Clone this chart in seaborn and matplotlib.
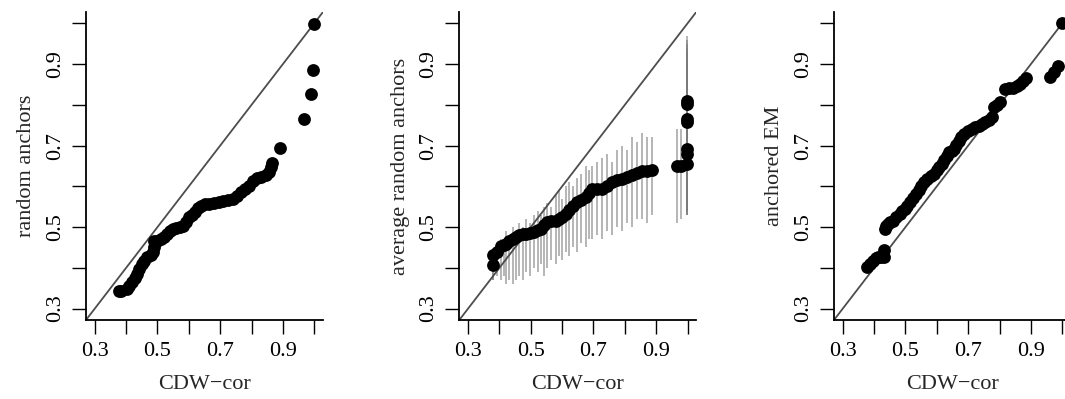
import matplotlib
matplotlib.use("Agg")
import numpy as np
import pandas as pd
import seaborn as sns
import matplotlib.pyplot as plt

# panel 1: random anchors vs CDW-cor
rand_x = [0.377, 0.385, 0.403, 0.410, 0.420, 0.428, 0.436, 0.442, 0.450, 0.458,
          0.467, 0.478, 0.486, 0.488, 0.490, 0.500, 0.510, 0.520, 0.530, 0.540,
          0.550, 0.560, 0.572, 0.582, 0.592, 0.600, 0.610, 0.620, 0.630, 0.640,
          0.650, 0.665, 0.680, 0.695, 0.710, 0.725, 0.742, 0.755, 0.768, 0.780,
          0.792, 0.805, 0.818, 0.830, 0.845, 0.855, 0.862, 0.866, 0.890, 0.967,
          0.989, 0.996, 1.000]
rand_y = [0.342, 0.343, 0.348, 0.355, 0.365, 0.375, 0.386, 0.398, 0.410, 0.418,
          0.426, 0.432, 0.440, 0.452, 0.465, 0.467, 0.471, 0.476, 0.483, 0.490,
          0.495, 0.498, 0.500, 0.503, 0.512, 0.524, 0.530, 0.537, 0.546, 0.553,
          0.557, 0.557, 0.559, 0.562, 0.565, 0.566, 0.568, 0.576, 0.585, 0.594,
          0.602, 0.612, 0.620, 0.624, 0.629, 0.636, 0.648, 0.657, 0.694, 0.765,
          0.826, 0.885, 0.999]

# panel 2: average random anchors with ranges
avg_x = [0.378, 0.379, 0.392, 0.406, 0.415, 0.421, 0.430, 0.442, 0.452, 0.464,
         0.475, 0.485, 0.498, 0.511, 0.522, 0.532, 0.543, 0.553, 0.566, 0.580,
         0.590, 0.601, 0.612, 0.622, 0.635, 0.648, 0.660, 0.675, 0.686, 0.696,
         0.710, 0.727, 0.742, 0.759, 0.775, 0.791, 0.806, 0.822, 0.838, 0.854,
         0.870, 0.886, 0.965, 0.980, 0.998, 0.999, 0.999, 0.999, 0.999, 0.999,
         0.999]
avg_y = [0.406, 0.431, 0.440, 0.453, 0.456, 0.459, 0.465, 0.472, 0.476, 0.480,
         0.482, 0.484, 0.486, 0.488, 0.492, 0.496, 0.505, 0.512, 0.514, 0.516,
         0.520, 0.525, 0.532, 0.541, 0.551, 0.561, 0.567, 0.574, 0.584, 0.594,
         0.594, 0.594, 0.602, 0.610, 0.615, 0.619, 0.623, 0.627, 0.632, 0.637,
         0.638, 0.639, 0.651, 0.651, 0.655, 0.680, 0.692, 0.757, 0.766, 0.802,
         0.810]
avg_lo = [0.37, 0.37, 0.38, 0.37, 0.38, 0.36, 0.37, 0.36, 0.37, 0.38,
          0.37, 0.39, 0.38, 0.40, 0.39, 0.41, 0.38, 0.40, 0.42, 0.41,
          0.43, 0.42, 0.44, 0.43, 0.45, 0.44, 0.46, 0.45, 0.47, 0.47,
          0.48, 0.47, 0.49, 0.48, 0.50, 0.49, 0.51, 0.50, 0.52, 0.52,
          0.51, 0.53, 0.51, 0.52, 0.53, 0.54, 0.55, 0.53, 0.54, 0.53,
          0.54]
avg_hi = [0.42, 0.44, 0.45, 0.47, 0.46, 0.49, 0.48, 0.50, 0.49, 0.51,
          0.50, 0.52, 0.51, 0.53, 0.54, 0.53, 0.55, 0.56, 0.55, 0.58,
          0.59, 0.57, 0.60, 0.61, 0.60, 0.62, 0.63, 0.65, 0.64, 0.65,
          0.66, 0.67, 0.68, 0.66, 0.69, 0.70, 0.69, 0.72, 0.71, 0.73,
          0.72, 0.72, 0.74, 0.74, 0.97, 0.86, 0.90, 0.93, 0.94, 0.95,
          0.96]

# panel 3: anchored EM vs CDW-cor
em_x = [0.376, 0.387, 0.397, 0.405, 0.412, 0.422, 0.431, 0.431, 0.434, 0.439,
        0.444, 0.452, 0.460, 0.470, 0.481, 0.489, 0.497, 0.505, 0.513, 0.524,
        0.534, 0.542, 0.549, 0.560, 0.570, 0.580, 0.591, 0.599, 0.607, 0.615,
        0.623, 0.631, 0.639, 0.647, 0.655, 0.662, 0.670, 0.678, 0.686, 0.700,
        0.712, 0.723, 0.734, 0.745, 0.755, 0.766, 0.776, 0.781, 0.792, 0.802,
        0.818, 0.830, 0.844, 0.855, 0.865, 0.876, 0.886, 0.960, 0.975, 0.986,
        1.000]
em_y = [0.402, 0.410, 0.418, 0.423, 0.427, 0.427, 0.427, 0.445, 0.496, 0.502,
        0.508, 0.512, 0.516, 0.525, 0.533, 0.539, 0.545, 0.553, 0.561, 0.572,
        0.582, 0.592, 0.602, 0.611, 0.619, 0.625, 0.631, 0.639, 0.647, 0.655,
        0.664, 0.674, 0.684, 0.688, 0.692, 0.702, 0.712, 0.720, 0.729, 0.735,
        0.741, 0.745, 0.749, 0.753, 0.757, 0.763, 0.770, 0.794, 0.800, 0.806,
        0.839, 0.841, 0.842, 0.846, 0.851, 0.858, 0.866, 0.869, 0.880, 0.896,
        1.000]

ticks = [0.3, 0.4, 0.5, 0.6, 0.7, 0.8, 0.9, 1.0]
tick_labels = ["0.3", "", "0.5", "", "0.7", "", "0.9", ""]
lims = (0.272, 1.028)

sns.set_style("ticks")
plt.rcParams["font.family"] = ["Liberation Serif", "DejaVu Serif"]
plt.rcParams["axes.unicode_minus"] = True

fig = plt.figure(figsize=(10.65, 3.99), dpi=100)
lefts = [86 / 1065, 459.3 / 1065, 834 / 1065]
axes = [fig.add_axes([l, 0.198, 237 / 1065, 0.772]) for l in lefts]

ylabels = ["random anchors", "average random anchors", "anchored EM"]
data = [
    pd.DataFrame({"x": rand_x, "y": rand_y}),
    pd.DataFrame({"x": avg_x, "y": avg_y}),
    pd.DataFrame({"x": em_x, "y": em_y}),
]

for i, (ax, df) in enumerate(zip(axes, data)):
    if i == 1:
        ax.vlines(avg_x, avg_lo, avg_hi, color="#7a7a7a", alpha=0.55,
                  linewidth=1.4, zorder=1)
    ax.axline((0, 0), slope=1, color="#4d4d4d", linewidth=1.3, zorder=2)
    sns.scatterplot(data=df, x="x", y="y", ax=ax, color="black", s=85,
                    linewidth=0, zorder=3, legend=False)
    ax.set_xlim(lims)
    ax.set_ylim(lims)
    ax.set_xticks(ticks)
    ax.set_xticklabels(tick_labels)
    ax.set_yticks(ticks)
    ax.set_yticklabels(tick_labels)
    ax.tick_params(axis="both", labelsize=16, length=10, width=1.0,
                   color="black", labelcolor="black", pad=6)
    ax.tick_params(axis="y", labelrotation=90, pad=5)
    for lab in ax.get_yticklabels():
        lab.set_va("center")
    for side in ["top", "right"]:
        ax.spines[side].set_visible(False)
    for side in ["left", "bottom"]:
        ax.spines[side].set_linewidth(1.3)
        ax.spines[side].set_color("black")
    ax.set_xlabel("CDW\u2212cor", fontsize=16, labelpad=10)
    ax.set_ylabel(ylabels[i], fontsize=16, labelpad=7)

fig.savefig("out.png", dpi=100)
plt.close(fig)
